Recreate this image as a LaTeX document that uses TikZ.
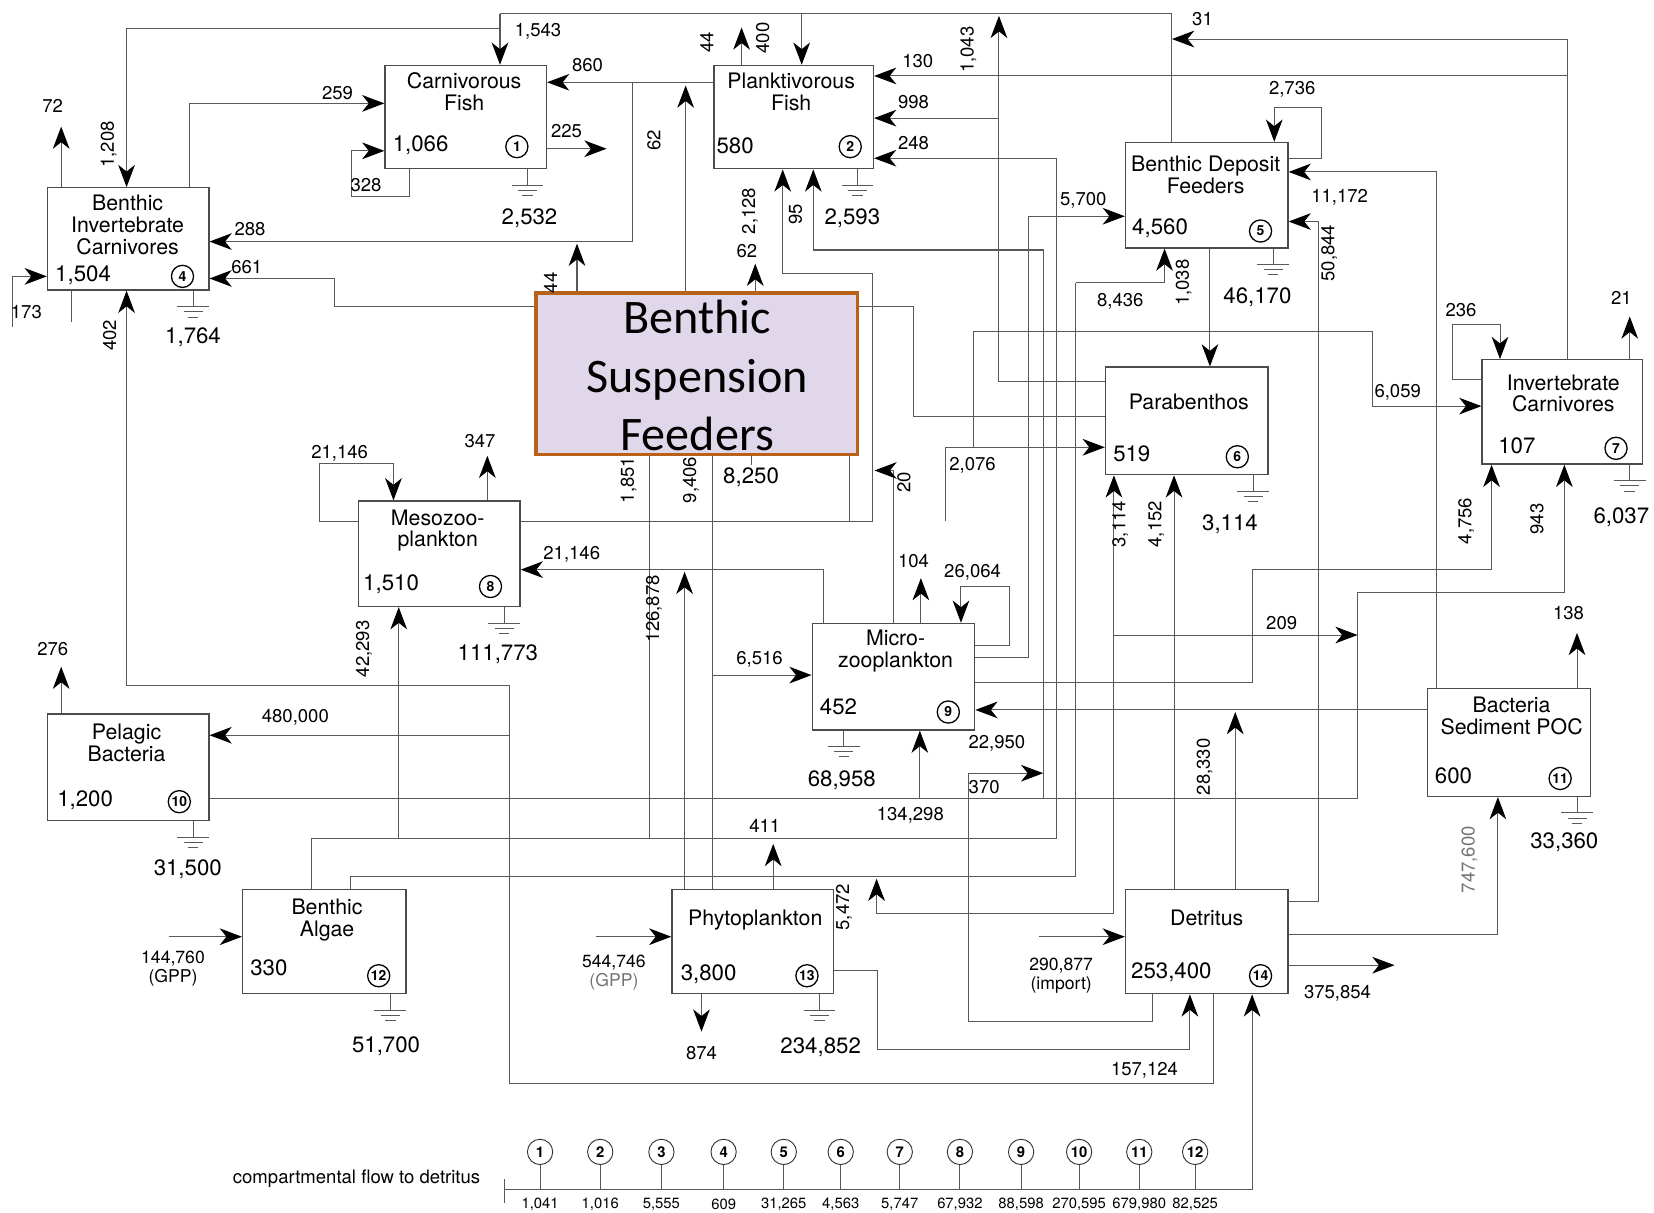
\documentclass[tikz,border=0pt]{standalone}
\usepackage{fontspec}
\setmainfont{TeX Gyre Heros}
\newfontfamily\calib{Carlito}
\usetikzlibrary{arrows.meta,fit,backgrounds}
\definecolor{bsfill}{RGB}{224,216,234}
\definecolor{bsedge}{RGB}{183,98,24}
\begin{document}
\begin{tikzpicture}[x=0.02cm,y=-0.02cm,
  ln/.style={draw=black!65, line width=0.55pt},
  flow/.style={ln, -{Stealth[length=12pt,width=9pt,inset=3.6pt,black]}},
  box/.style={draw=black!70, line width=0.7pt, fill=white, inner sep=0pt},
  bsfbox/.style={draw=bsedge, line width=2pt, fill=bsfill, inner sep=0pt},
  ttl/.style={font=\fontsize{11.5}{11.8}\selectfont, align=center, inner sep=0pt},
  val/.style={font=\fontsize{12}{13}\selectfont, anchor=west, inner sep=0pt},
  idx/.style={circle, draw=black, line width=0.7pt, minimum size=0.42cm, inner sep=0pt, font=\fontsize{7.5}{7.5}\selectfont\bfseries},
  bidx/.style={circle, draw=black!80, line width=0.5pt, minimum size=0.48cm, inner sep=0pt, font=\fontsize{8}{8}\selectfont\bfseries},
  lab/.style={font=\fontsize{10}{11}\selectfont, inner sep=1pt},
  slab/.style={font=\fontsize{8}{9}\selectfont, inner sep=1pt},
  rlab/.style={font=\fontsize{12}{13}\selectfont, inner sep=1pt},
  vlab/.style={lab, rotate=90},
]
\useasboundingbox (0,0) rectangle (1568,1149);

% ---------- compartments ----------
\node[box, fit={(365,62) (518,160)}] (cf) {};
\node[box, fit={(677,62) (828,160)}] (pf) {};
\node[box, fit={(45,178) (198,275)}] (bic) {};
\node[box, fit={(1067,135) (1221,235)}] (bdf) {};
\node[box, fit={(1048,348) (1202,450)}] (pb) {};
\node[box, fit={(1405,341) (1557,440)}] (ic) {};
\node[box, fit={(340,475) (493,575)}] (meso) {};
\node[box, fit={(770,591) (924,692)}] (micro) {};
\node[box, fit={(45,677) (198,778)}] (pbac) {};
\node[box, fit={(1353,653) (1508,755)}] (bsp) {};
\node[box, fit={(230,843) (385,942)}] (ba) {};
\node[box, fit={(637,843) (790,942)}] (phy) {};
\node[box, fit={(1067,843) (1221,942)}] (det) {};
\node[bsfbox, fit={(508,278) (813,431)}] (bsf) {};

% ---------- flows (drawn beneath the boxes) ----------
\begin{scope}[on background layer]
% top feeders
\draw[ln] (1111,0 |- bdf.north) -- (1111,13) -- (474,13);
\draw[flow] (474,13) -- (474,0 |- cf.north);
\draw[flow] (474,27) -- (120,27) -- (120,0 |- bic.north);
\draw[flow] (760,13) -- (760,0 |- pf.north);
\draw[flow] (703,0 |- pf.north) -- (703,26);
\draw[ln] (1486,0 |- ic.north) -- (1486,37);
\draw[flow] (1486,37) -- (1111,37);
\draw[flow] (1486,72) -- (pf.east |- 0,72);
\draw[flow] (pb.west |- 0,362) -- (947,362) -- (947,15);
\draw[flow] (947,112) -- (pf.east |- 0,112);
\draw[flow] (1002,795) -- (1002,150) -- (pf.east |- 0,150);
\draw[flow] (989,757) -- (989,237) -- (771,237) -- (771,0 |- pf.south);
\draw[flow] (meso.east |- 0,494) -- (827,494) -- (827,259) -- (742,259) -- (742,0 |- pf.south);
\draw[flow] (716,0 |- bsf.north) -- (716,250);
\draw[flow] (pf.west |- 0,78) -- (cf.east |- 0,78);
\draw[flow] (600,78) -- (600,229) -- (bic.east |- 0,229);
\draw[flow] (650,0 |- bsf.north) -- (650,81);
\draw[flow] (547,0 |- bsf.north) -- (547,231);
\draw[flow] (bsf.west |- 0,291) -- (317,291) -- (317,264) -- (bic.east |- 0,264);
\draw[flow] (cf.east |- 0,141) -- (575,141);
\draw[flow] (180,0 |- bic.north) -- (180,98) -- (cf.west |- 0,98);
\draw[flow] (388,0 |- cf.south) -- (388,186) -- (333,186) -- (333,143) -- (cf.west |- 0,143);
\draw[flow] (58,0 |- bic.north) -- (58,120);
\draw[flow] (12,310) -- (12,262) -- (bic.west |- 0,262);
\draw[ln] (68,0 |- bic.south) -- (68,305);
% detritus to bacteria and benthic carnivores
\draw[flow] (483,1027) -- (483,650) -- (120,650) -- (120,0 |- bic.south);
\draw[flow] (483,697) -- (pbac.east |- 0,697);
\draw[ln] (1150,0 |- det.south) -- (1150,1027) -- (483,1027);
\draw[flow] (58,0 |- pbac.north) -- (58,632);
% pelagic bacteria
\draw[ln] (pbac.east |- 0,757) -- (1287,757);
\draw[flow] (1287,757) -- (1287,562) -- (1483,562) -- (1483,0 |- ic.south);
\draw[flow] (872,757) -- (872,0 |- micro.south);
% zooplankton
\draw[flow] (781,0 |- micro.north) -- (781,540) -- (meso.east |- 0,540);
\draw[flow] (649,0 |- phy.north) -- (649,542);
\draw[ln] (675,0 |- phy.north) -- (675,0 |- bsf.south);
\draw[flow] (675,640) -- (micro.west |- 0,640);
\draw[ln] (616,795) -- (616,0 |- bsf.south);
\draw[ln] (805,0 |- bsf.south) -- (805,494);
\draw[flow] (378,795) -- (378,0 |- meso.south);
\draw[flow] (meso.west |- 0,494) -- (303,494) -- (303,439) -- (373,439) -- (373,0 |- meso.north);
\draw[flow] (462,0 |- meso.north) -- (462,432);
\draw[flow] (896,494) -- (896,424) -- (pb.west |- 0,424);
\draw[flow] (923,424) -- (923,314) -- (1301,314) -- (1301,385) -- (ic.west |- 0,385);
\draw[ln] (847,0 |- micro.north) -- (847,446);
\draw[flow] (847,446) -- (829,446);
\draw[ln] (bsf.east |- 0,291) -- (866,291) -- (866,395) -- (pb.west |- 0,395);
\draw[flow] (micro.east |- 0,612) -- (957,612) -- (957,556) -- (911,556) -- (911,0 |- micro.north);
\draw[flow] (873,0 |- micro.north) -- (873,548);
\draw[flow] (micro.east |- 0,623) -- (975,623) -- (975,205) -- (bdf.west |- 0,205);
\draw[flow] (micro.east |- 0,647) -- (1187,647) -- (1187,540) -- (1414,540) -- (1414,0 |- ic.south);
% benthic algae
\draw[ln] (295,0 |- ba.north) -- (295,795) -- (1002,795);
\draw[ln] (332,0 |- ba.north) -- (332,831) -- (1020,831) -- (1020,268);
\draw[flow] (1020,268) -- (1104,268) -- (1104,0 |- bdf.south);
\draw[flow] (160,888) -- (ba.west |- 0,888);
% benthic deposit feeders
\draw[flow] (1147,0 |- bdf.south) -- (1147,0 |- pb.north);
\draw[flow] (bdf.east |- 0,150) -- (1253,150) -- (1253,102) -- (1208,102) -- (1208,0 |- bdf.north);
\draw[flow] (1362,0 |- bsp.north) -- (1362,163) -- (bdf.east |- 0,163);
\draw[flow] (det.east |- 0,855) -- (1250,855) -- (1250,210) -- (bdf.east |- 0,210);
% invertebrate carnivores
\draw[flow] (ic.west |- 0,360) -- (1377,360) -- (1377,308) -- (1422,308) -- (1422,0 |- ic.north);
\draw[flow] (1545,0 |- ic.north) -- (1545,300);
% sediment bacteria
\draw[flow] (1495,0 |- bsp.north) -- (1495,600);
\draw[flow] (bsp.west |- 0,673) -- (micro.east |- 0,673);
% detritus
\draw[flow] (1171,0 |- det.north) -- (1171,675);
\draw[flow] (1113,0 |- det.north) -- (1113,0 |- pb.south);
\draw[flow] (1056,866) -- (1056,0 |- pb.south);
\draw[flow] (1056,866) -- (831,866) -- (831,833);
\draw[flow] (1056,602) -- (1287,602);
\draw[ln] (1093,0 |- det.south) -- (1093,968) -- (918,968) -- (918,733);
\draw[flow] (918,733) -- (989,733);
\draw[flow] (det.east |- 0,886) -- (1420,886) -- (1420,0 |- bsp.south);
\draw[flow] (det.east |- 0,915) -- (1322,915);
\draw[flow] (985,888) -- (det.west |- 0,888);
% phytoplankton
\draw[flow] (phy.east |- 0,920) -- (832,920) -- (832,995) -- (1128,995) -- (1128,0 |- det.south);
\draw[flow] (733,0 |- phy.north) -- (733,800);
\draw[flow] (665,0 |- phy.south) -- (665,978);
\draw[flow] (565,888) -- (phy.west |- 0,888);
% compartmental flow to detritus
\draw[ln] (478,1128) -- (1187,1128);
\draw[flow] (1187,1128) -- (1187,0 |- det.south);
\draw[ln] (478,1118) -- (478,1140);
\end{scope}

% ---------- respiration (ground) symbols ----------
\newcommand\gnd[2]{%
  \draw[ln] (#2,0 |- #1.south) -- ++(0,15) ++(-15,0) -- ++(30,0) ++(-24,5) -- ++(18,0) ++(-14,5) -- ++(10,0);}
\gnd{cf}{500}
\gnd{pf}{813}
\gnd{bic}{183}
\gnd{bdf}{1207}
\gnd{pb}{1188}
\gnd{ic}{1545}
\gnd{meso}{478}
\gnd{micro}{800}
\gnd{pbac}{183}
\gnd{bsp}{1495}
\gnd{ba}{370}
\gnd{phy}{777}
\draw[ln] (712,0 |- bsf.south) -- ++(0,8);

% ---------- compartment texts ----------
\node[ttl] (tcf) at (440,87) {Carnivorous\\Fish};
\node[ttl] (tpf) at (750,87) {Planktivorous\\Fish};
\node[ttl] (tbic) at (121,213) {Benthic\\Invertebrate\\Carnivores};
\node[ttl] (tbdf) at (1143,166) {Benthic Deposit\\Feeders};
\node[ttl] (tpb) at (1127,381) {Parabenthos};
\node[ttl] (tic) at (1482,373) {Invertebrate\\Carnivores};
\node[ttl] (tmeso) at (415,503) {Mesozoo-\\plankton};
\node[ttl] (tmicro) at (849,617) {Micro-\\zooplankton};
\node[ttl] (tpbac) at (120,704) {Pelagic\\Bacteria};
\node[ttl] (tbsp) at (1433,679) {Bacteria\\Sediment POC};
\node[ttl] (tba) at (310,872) {Benthic\\Algae};
\node[ttl] (tphy) at (716,872) {Phytoplankton};
\node[ttl] (tdet) at (1144,870) {Detritus};

\node[val] (vcf) at (372,138) {1,066};
\node[val] (vpf) at (679,138) {580};
\node[val] (vbic) at (52,261) {1,504};
\node[val] (vbdf) at (1073,216) {4,560};
\node[val] (vpb) at (1055,430) {519};
\node[val] (vic) at (1420,423) {107};
\node[val] (vmeso) at (344,554) {1,510};
\node[val] (vmicro) at (777,670) {452};
\node[val] (vpbac) at (54,759) {1,200};
\node[val] (vbsp) at (1360,735) {600};
\node[val] (vba) at (237,917) {330};
\node[val] (vphy) at (645,924) {3,800};
\node[val] (vdet) at (1072,922) {253,400};

\node[idx] (n1) at (490,139) {1};
\node[idx] (n2) at (806,139) {2};
\node[idx] (n4) at (173,262) {4};
\node[idx] (n5) at (1195,219) {5};
\node[idx] (n6) at (1173,433) {6};
\node[idx] (n7) at (1532,425) {7};
\node[idx] (n8) at (465,556) {8};
\node[idx] (n9) at (899,675) {9};
\node[idx] (n10) at (170,760) {10};
\node[idx] (n11) at (1479,738) {11};
\node[idx] (n12) at (359,925) {12};
\node[idx] (n13) at (765,925) {13};
\node[idx] (n14) at (1195,925) {14};

\node[font=\calib\fontsize{26}{31.5}\selectfont, align=center, inner sep=0pt] (tbsf) at (661,356) {Benthic\\Suspension\\Feeders};

% ---------- flow labels ----------
\node[lab] (a1) at (510,30) {1,543};
\node[lab] (a2) at (557,62) {860};
\node[lab] (a3) at (320,88) {259};
\node[lab] (a4) at (537,124) {225};
\node[lab] (a5) at (347,175) {328};
\node[lab] (a6) at (50,100) {72};
\node[vlab] (a7) at (103,137) {1,208};
\node[lab] (a8) at (237,217) {288};
\node[lab] (a9) at (234,253) {661};
\node[lab] (a10) at (25,296) {173};
\node[vlab] (a11) at (104,318) {402};
\node[vlab] (a12) at (522,268) {44};
\node[vlab] (a13) at (620,133) {62};
\node[vlab] (a14) at (670,40) {44};
\node[vlab] (a15) at (723,36) {400};
\node[lab] (a16) at (870,58) {130};
\node[lab] (a17) at (866,97) {998};
\node[lab] (a18) at (866,136) {248};
\node[vlab] (a19) at (918,47) {1,043};
\node[vlab] (a20) at (711,200) {2,128};
\node[vlab] (a21) at (754,203) {95};
\node[lab] (a22) at (708,238) {62};
\node[lab] (a23) at (1140,18) {31};
\node[lab] (a24) at (1225,85) {2,736};
\node[lab] (a25) at (1270,187) {11,172};
\node[lab] (a26) at (1027,190) {5,700};
\node[vlab] (a27) at (1260,240) {50,844};
\node[lab] (a28) at (1062,286) {8,436};
\node[vlab] (a29) at (1122,268) {1,038};
\node[lab] (a30) at (1385,294) {236};
\node[lab] (a31) at (1537,282) {21};
\node[lab] (a32) at (1325,372) {6,059};
\node[vlab] (a33) at (1390,494) {4,756};
\node[vlab] (a34) at (1457,492) {943};
\node[vlab] (a35) at (1062,497) {3,114};
\node[vlab] (a36) at (1096,497) {4,152};
\node[lab] (a37) at (922,441) {2,076};
\node[vlab] (a38) at (857,457) {20};
\node[vlab] (a39) at (655,455) {9,406};
\node[vlab] (a40) at (596,455) {1,851};
\node[lab] (a41) at (322,430) {21,146};
\node[lab] (a42) at (455,418) {347};
\node[lab] (a43) at (542,525) {21,146};
\node[vlab] (a44) at (345,615) {42,293};
\node[vlab] (a45) at (620,577) {126,878};
\node[lab] (a46) at (866,532) {104};
\node[lab] (a47) at (922,543) {26,064};
\node[lab] (a48) at (720,625) {6,516};
\node[lab] (a49) at (1215,591) {209};
\node[lab] (a50) at (1487,581) {138};
\node[lab] (a51) at (50,615) {276};
\node[lab] (a52) at (280,680) {480,000};
\node[lab] (a53) at (945,705) {22,950};
\node[vlab] (a54) at (1142,727) {28,330};
\node[lab] (a55) at (933,746) {370};
\node[lab] (a56) at (863,773) {134,298};
\node[lab] (a57) at (725,783) {411};
\node[vlab, text=black!55] (a58) at (1393,815) {747,600};
\node[vlab] (a59) at (800,860) {5,472};
\node[lab, align=center, font=\fontsize{9.5}{10}\selectfont] (a60) at (164,918) {144,760\\(GPP)};
\node[lab, align=center, font=\fontsize{9.5}{10}\selectfont] (a61) at (582,922) {544,746\\\textcolor{black!55}{(GPP)}};
\node[lab, align=center, font=\fontsize{9.5}{10}\selectfont] (a62) at (1006,925) {290,877\\(import)};
\node[lab] (a63) at (1268,942) {375,854};
\node[lab] (a64) at (665,998) {874};
\node[lab] (a65) at (1085,1015) {157,124};

% respiration labels
\node[rlab] (r1) at (502,207) {2,532};
\node[rlab] (r2) at (808,207) {2,593};
\node[rlab] (r4) at (183,320) {1,764};
\node[rlab] (r5) at (1192,282) {46,170};
\node[rlab] (r6) at (1166,497) {3,114};
\node[rlab] (r7) at (1537,490) {6,037};
\node[rlab] (r3) at (712,452) {8,250};
\node[rlab] (r8) at (472,620) {111,773};
\node[rlab] (r9) at (798,740) {68,958};
\node[rlab] (r10) at (178,824) {31,500};
\node[rlab] (r11) at (1483,798) {33,360};
\node[rlab] (r12) at (366,992) {51,700};
\node[rlab] (r13) at (778,993) {234,852};

% ---------- compartmental flow to detritus ----------
\node[lab] (cft) at (338,1117) {compartmental flow to detritus};
\foreach \n/\x/\v in {1/512/{1,041},2/569/{1,016},3/627/{5,555},4/686/{609},5/743/{31,265},6/797/{4,563},7/853/{5,747},8/910/{67,932},9/968/{88,598},10/1023/{270,595},11/1080/{679,980},12/1133/{82,525}}{
  \node[bidx] (c\n) at (\x,1092) {\n};
  \draw[ln] (c\n.south) -- (c\n.south |- 0,1128);
  \node[slab] (v\n) at (\x,1142) {\v};
}
\end{tikzpicture}
\end{document}
